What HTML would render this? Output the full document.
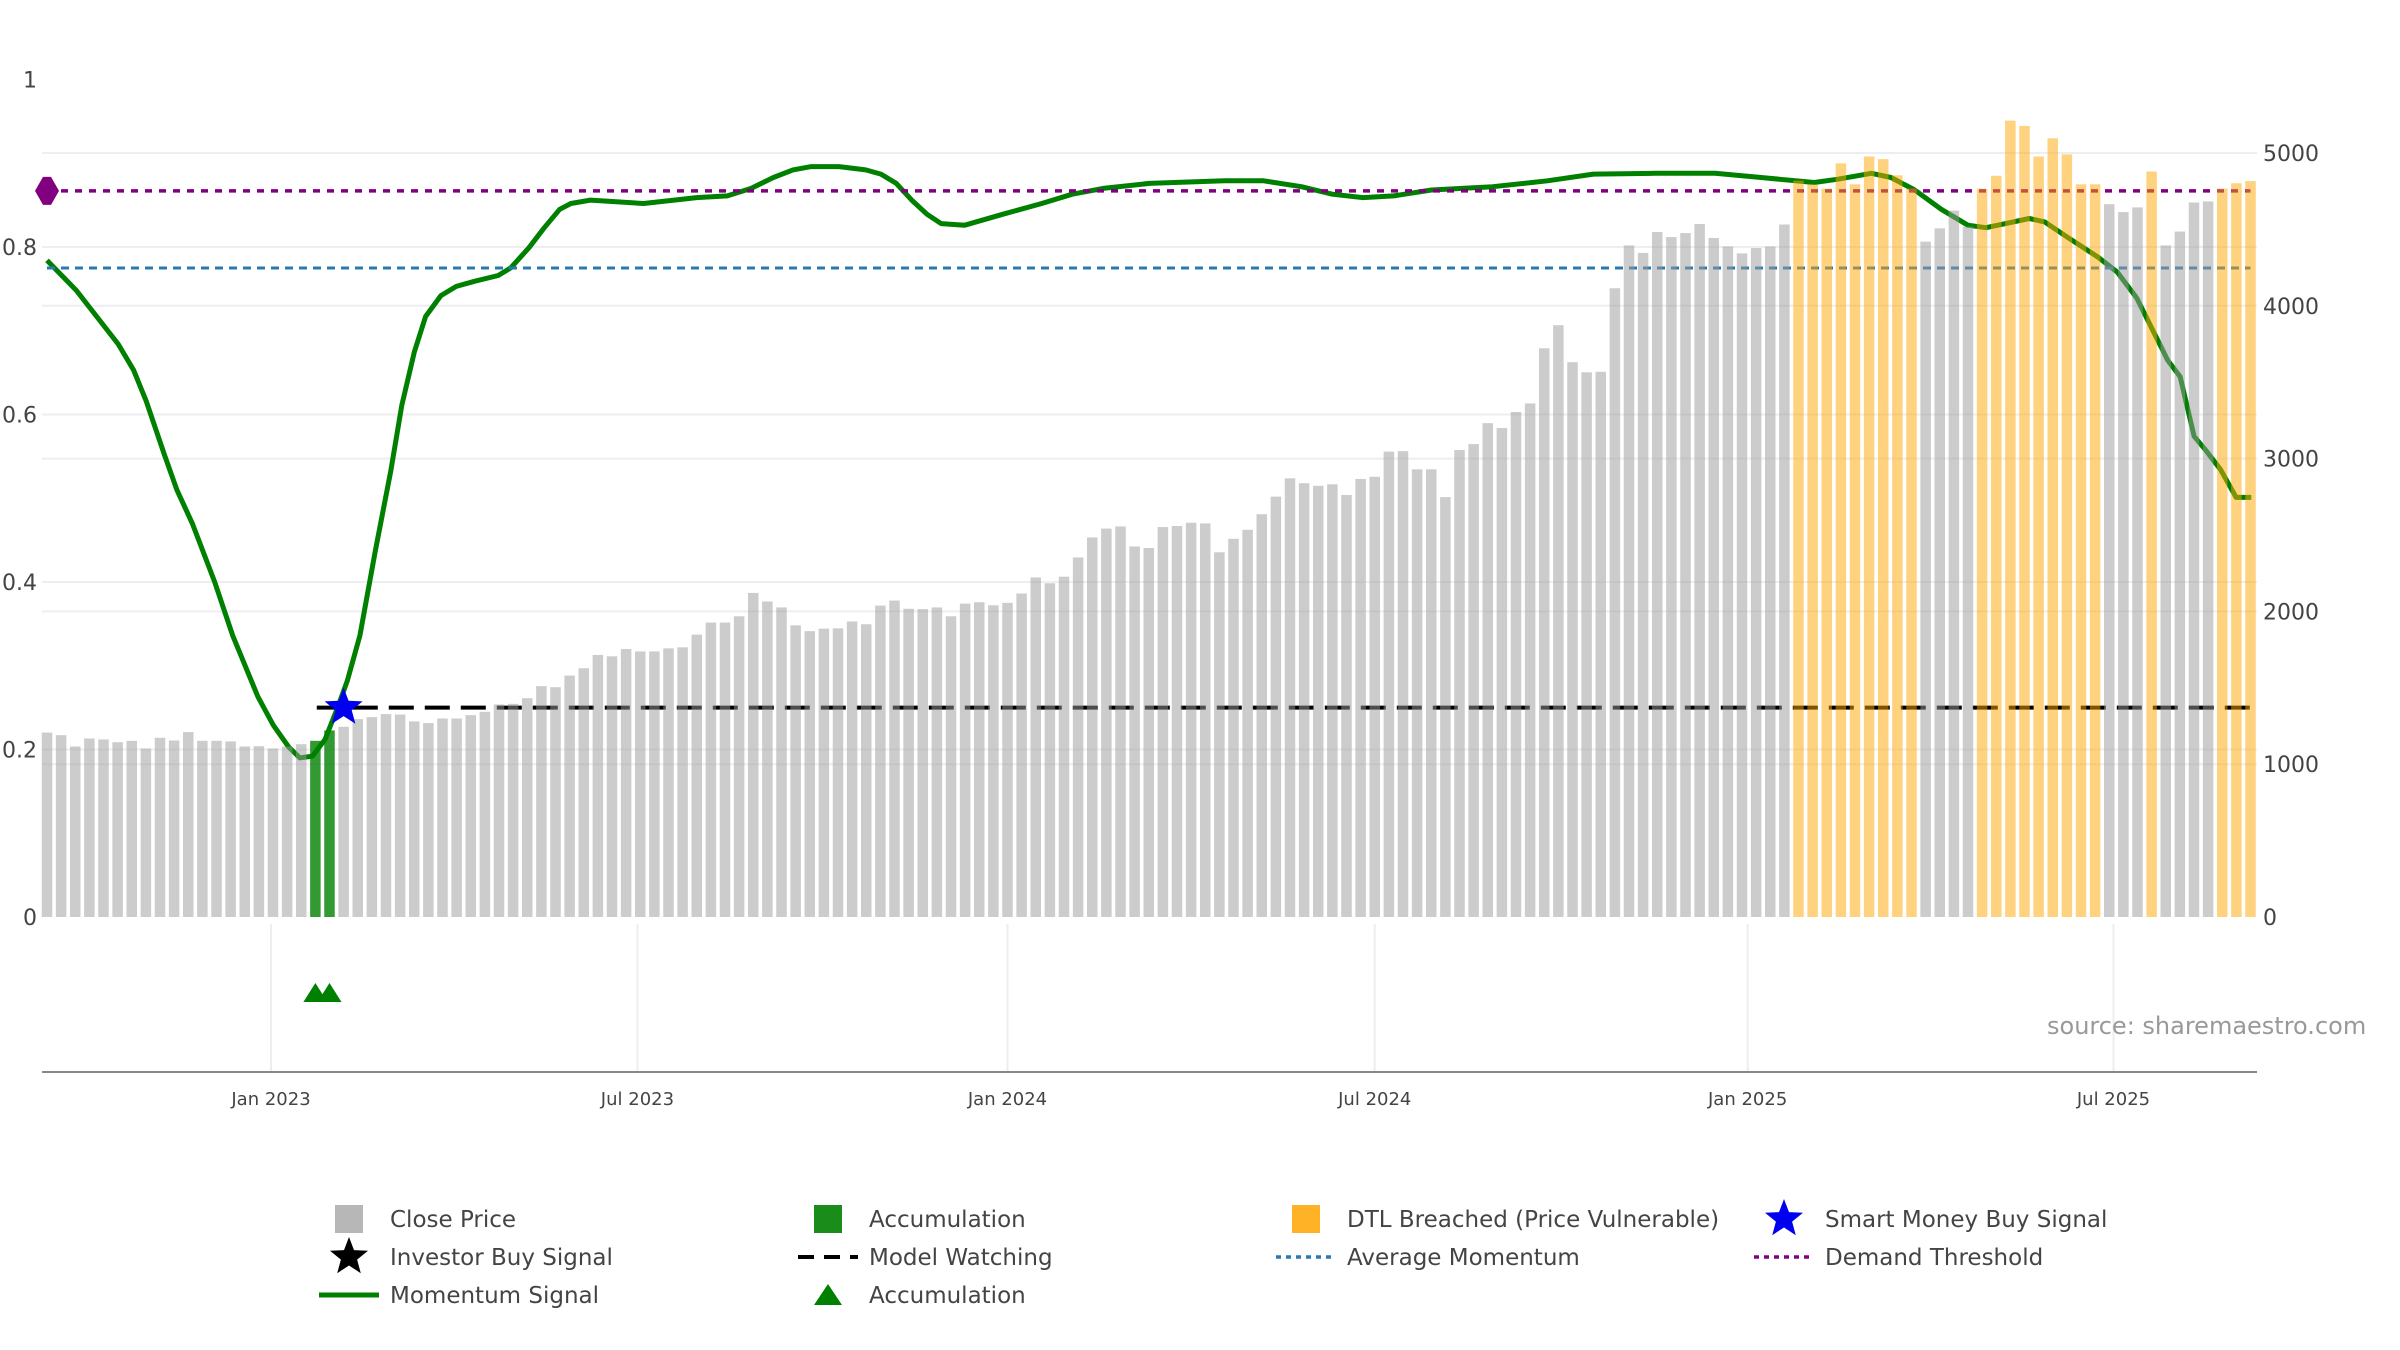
<!DOCTYPE html>
<html><head><meta charset="utf-8"><title>Momentum chart</title>
<style>
html,body{margin:0;padding:0;background:#fff;}
svg{display:block;font-family:"DejaVu Sans","Liberation Sans",sans-serif;}
</style></head>
<body>
<svg id="chart" width="2400" height="1350" viewBox="0 0 2400 1350" xmlns="http://www.w3.org/2000/svg">
<g id="grid"></g>
<g id="lines"></g>
<g id="bars"></g>
<g id="markers"></g>
<g id="axes"></g>
<text x="2047" y="1034" font-size="24" fill="#999">source: sharemaestro.com</text>
<g id="legend"></g>
</svg>
<script>
const closePrice = [1207,1190,1116,1168,1162,1144,1153,1103,1173,1155,1210,1153,1153,1149,1116,1118,1103,1116,1131,1153,1221,1245,1295,1308,1328,1325,1280,1269,1299,1299,1321,1343,1391,1395,1432,1511,1504,1580,1628,1715,1706,1754,1738,1738,1758,1765,1848,1927,1927,1968,2121,2065,2026,1909,1871,1887,1889,1934,1916,2038,2071,2017,2015,2026,1968,2051,2060,2040,2056,2117,2222,2184,2227,2353,2484,2542,2556,2425,2415,2552,2559,2580,2576,2387,2475,2534,2636,2751,2871,2839,2822,2832,2762,2867,2881,3046,3049,2930,2930,2748,3056,3095,3232,3200,3305,3361,3722,3873,3631,3565,3568,4115,4395,4346,4483,4450,4476,4535,4444,4388,4343,4378,4388,4532,4819,4795,4767,4932,4795,4977,4960,4854,4767,4420,4507,4623,4518,4767,4851,5212,5177,4977,5096,4991,4795,4795,4665,4613,4644,4879,4395,4486,4676,4683,4767,4802,4816];
const accumulationIdx = [19,20];
const dtlRanges = [[124,132],[137,145],[149,149],[154,156]];
const momentumIdx = [0,2.08,5.04,6.13,7.02,8.31,9.2,10.29,11.87,13.15,14.93,16.02,17.11,17.9,18.79,19.68,20.57,21.26,22.15,23.24,24.33,25.12,26.01,26.8,27.89,28.98,30.26,31.94,32.83,34.12,35.21,36.3,37.09,38.47,42.23,44.41,45.99,48.16,49.85,51.43,52.81,54.1,56.08,57.96,59.04,60.13,61.22,62.31,63.3,64.98,67.65,70.42,72.59,74.77,78.03,83.37,86.14,88.81,90.99,93.16,95.34,98.01,102.36,106.22,109.48,113.83,118.09,121.35,125.11,126.79,129.16,130.55,132.23,134.11,135.99,137.27,138.66,140.34,141.43,143.01,145.19,146.57,147.95,149.04,150.13,151.02,152.01,152.8,153.89,154.98,156.06];
const momentumVal = [0.784,0.748,0.684,0.653,0.616,0.552,0.510,0.470,0.400,0.336,0.263,0.229,0.203,0.190,0.192,0.212,0.250,0.282,0.336,0.437,0.532,0.611,0.675,0.717,0.742,0.753,0.759,0.766,0.775,0.799,0.823,0.845,0.852,0.856,0.852,0.856,0.859,0.861,0.870,0.883,0.892,0.896,0.896,0.892,0.887,0.876,0.856,0.839,0.828,0.826,0.839,0.852,0.863,0.870,0.876,0.879,0.879,0.872,0.863,0.859,0.861,0.868,0.872,0.879,0.887,0.888,0.888,0.883,0.877,0.881,0.888,0.883,0.868,0.845,0.826,0.823,0.828,0.834,0.830,0.812,0.788,0.770,0.739,0.702,0.665,0.645,0.574,0.558,0.534,0.501,0.501];
const demandThreshold = 0.867;
const averageMomentum = 0.775;
const modelWatching = 0.25;
const modelWatchingStart = 19.1;
const modelWatchingEnd = 156.7;
const smartMoneyIdx = 21.0;
const leftTicks = [0,0.2,0.4,0.6,0.8,1];
const leftTickLabels = ["0","0.2","0.4","0.6","0.8","1"];
const rightTicks = [0,1000,2000,3000,4000,5000];
const xTickIdx = [15.86,41.8,68.0,94.0,120.4,146.3];
const xTickLabels = ["Jan 2023","Jul 2023","Jan 2024","Jul 2024","Jan 2025","Jul 2025"];

const NS="http://www.w3.org/2000/svg";
const X0=47, XS=14.125, BASE=917, PL=42, PR=2257;
const xs = i => X0 + i*XS;
const yL = v => BASE - v*837.5;
const yR = v => BASE - v*0.1528;
function mk(tag, attrs, parent){const e=document.createElementNS(NS,tag);for(const k in attrs)e.setAttribute(k,attrs[k]);parent.appendChild(e);return e;}
const G=id=>document.getElementById(id);

leftTicks.forEach((t,i)=>{ if(t>0 && t<1){const l=mk('line',{x1:PL,x2:PR,y1:yL(t),y2:yL(t),stroke:'#eceef2','stroke-width':2},G('grid'));

}});
rightTicks.forEach(t=>{ if(t>0){const l=mk('line',{x1:PL,x2:PR,y1:yR(t),y2:yR(t),stroke:'#eceef2','stroke-width':2},G('grid'));

}});
xTickIdx.forEach(t=>{const l=mk('line',{x1:xs(t),x2:xs(t),y1:924,y2:1072,stroke:'#eceef2','stroke-width':2},G('grid'));

});

let d='';momentumIdx.forEach((m,i)=>{d+=(i?'L':'M')+xs(m).toFixed(1)+','+yL(momentumVal[i]).toFixed(1);});
const ml=mk('path',{d:d,fill:'none',stroke:'#008000','stroke-width':5,'stroke-linejoin':'round'},G('lines'));


const dl=mk('line',{x1:xs(0),x2:xs(156),y1:yL(demandThreshold),y2:yL(demandThreshold),stroke:'#800080','stroke-width':3.5,'stroke-dasharray':'7 7'},G('lines'));


const al=mk('line',{x1:xs(0),x2:xs(156),y1:yL(averageMomentum),y2:yL(averageMomentum),stroke:'#2a7ab0','stroke-width':3,'stroke-dasharray':'8 6'},G('lines'));


const wl=mk('line',{x1:xs(modelWatchingStart),x2:xs(modelWatchingEnd),y1:yL(modelWatching),y2:yL(modelWatching),stroke:'#000','stroke-width':4,'stroke-dasharray':'25 11'},G('lines'));



const inDTL=i=>dtlRanges.some(r=>i>=r[0]&&i<=r[1]);
closePrice.forEach((v,i)=>{
  let fill='#999999',op=0.5,name='close-price-bar';
  if(accumulationIdx.includes(i)){fill='#008000';op=0.8;name='accumulation-bar';}
  else if(inDTL(i)){fill='#ffa500';op=0.5;name='dtl-breached-bar';}
  const b=mk('rect',{x:xs(i)-5.25,y:yR(v),width:10.5,height:BASE-yR(v),fill:fill,'fill-opacity':op},G('bars'));
  
  
});

function starPath(cx,cy,R,r){let p='';for(let k=0;k<10;k++){const a=-Math.PI/2+k*Math.PI/5;const rr=k%2?r:R;p+=(k?'L':'M')+(cx+rr*Math.cos(a)).toFixed(1)+','+(cy+rr*Math.sin(a)).toFixed(1);}return p+'Z';}
const st=mk('path',{d:starPath(xs(smartMoneyIdx),yL(modelWatching),20,8.5),fill:'#0000ee'},G('markers'));


const dx=xs(0),dy=yL(demandThreshold);
const dm=mk('path',{d:`M${dx-12},${dy} L${dx-4},${dy-14} L${dx+4},${dy-14} L${dx+12},${dy} L${dx+4},${dy+14} L${dx-4},${dy+14}Z`,fill:'#800080'},G('markers'));


accumulationIdx.forEach(i=>{const cx=xs(i),cy=993;
  const t=mk('path',{d:`M${cx-12},${cy+9} L${cx},${cy-10} L${cx+12},${cy+9}Z`,fill:'#008000'},G('markers'));
  
  });

const ax=mk('line',{x1:PL,x2:PR,y1:1072,y2:1072,stroke:'#888','stroke-width':2},G('axes'));


leftTicks.forEach((t,i)=>{const e=mk('text',{x:37,y:yL(t)+8,'text-anchor':'end','font-size':22,fill:'#444'},G('axes'));e.textContent=leftTickLabels[i];

});
rightTicks.forEach(t=>{const e=mk('text',{x:2263,y:yR(t)+8,'font-size':22,fill:'#444'},G('axes'));e.textContent=String(t);

});
xTickIdx.forEach((t,i)=>{const e=mk('text',{x:xs(t),y:1105,'text-anchor':'middle','font-size':18,fill:'#444'},G('axes'));e.textContent=xTickLabels[i];

});

const LG=G('legend');
const cols=[349,828,1306,1784], rows=[1219,1257,1295];
const entries=[
 ['Close Price','sq','#999',0.7,0,0],['Accumulation','sq','#008000',0.9,1,0],['DTL Breached (Price Vulnerable)','sq','#ffa500',0.85,2,0],['Smart Money Buy Signal','star','#0000ee',1,3,0],
 ['Investor Buy Signal','star','#000',1,0,1],['Model Watching','dash','#000',1,1,1],['Average Momentum','dot','#2a7ab0',1,2,1],['Demand Threshold','dot','#800080',1,3,1],
 ['Momentum Signal','line','#008000',1,0,2],['Accumulation','tri','#008000',1,1,2]];
entries.forEach(en=>{
  const [label,type,col,op,c,r]=en;const cx=cols[c],cy=rows[r];
  const g=mk('g',{},LG);
  
  
  if(type==='sq') mk('rect',{x:cx-14,y:cy-14,width:28,height:28,fill:col,'fill-opacity':op},g);
  if(type==='star') mk('path',{d:starPath(cx,cy,20,8.5),fill:col},g);
  if(type==='dash') mk('line',{x1:cx-30,x2:cx+30,y1:cy,y2:cy,stroke:col,'stroke-width':4,'stroke-dasharray':'16 10'},g);
  if(type==='dot') mk('line',{x1:cx-30,x2:cx+30,y1:cy,y2:cy,stroke:col,'stroke-width':3.5,'stroke-dasharray':'5 5'},g);
  if(type==='line') mk('line',{x1:cx-30,x2:cx+30,y1:cy,y2:cy,stroke:col,'stroke-width':5},g);
  if(type==='tri') mk('path',{d:`M${cx-14},${cy+10} L${cx},${cy-11} L${cx+14},${cy+10}Z`,fill:col},g);
  const t=mk('text',{x:cx+41,y:cy+8,'font-size':23,fill:'#444'},g);t.textContent=label;
});
</script>
</body></html>
